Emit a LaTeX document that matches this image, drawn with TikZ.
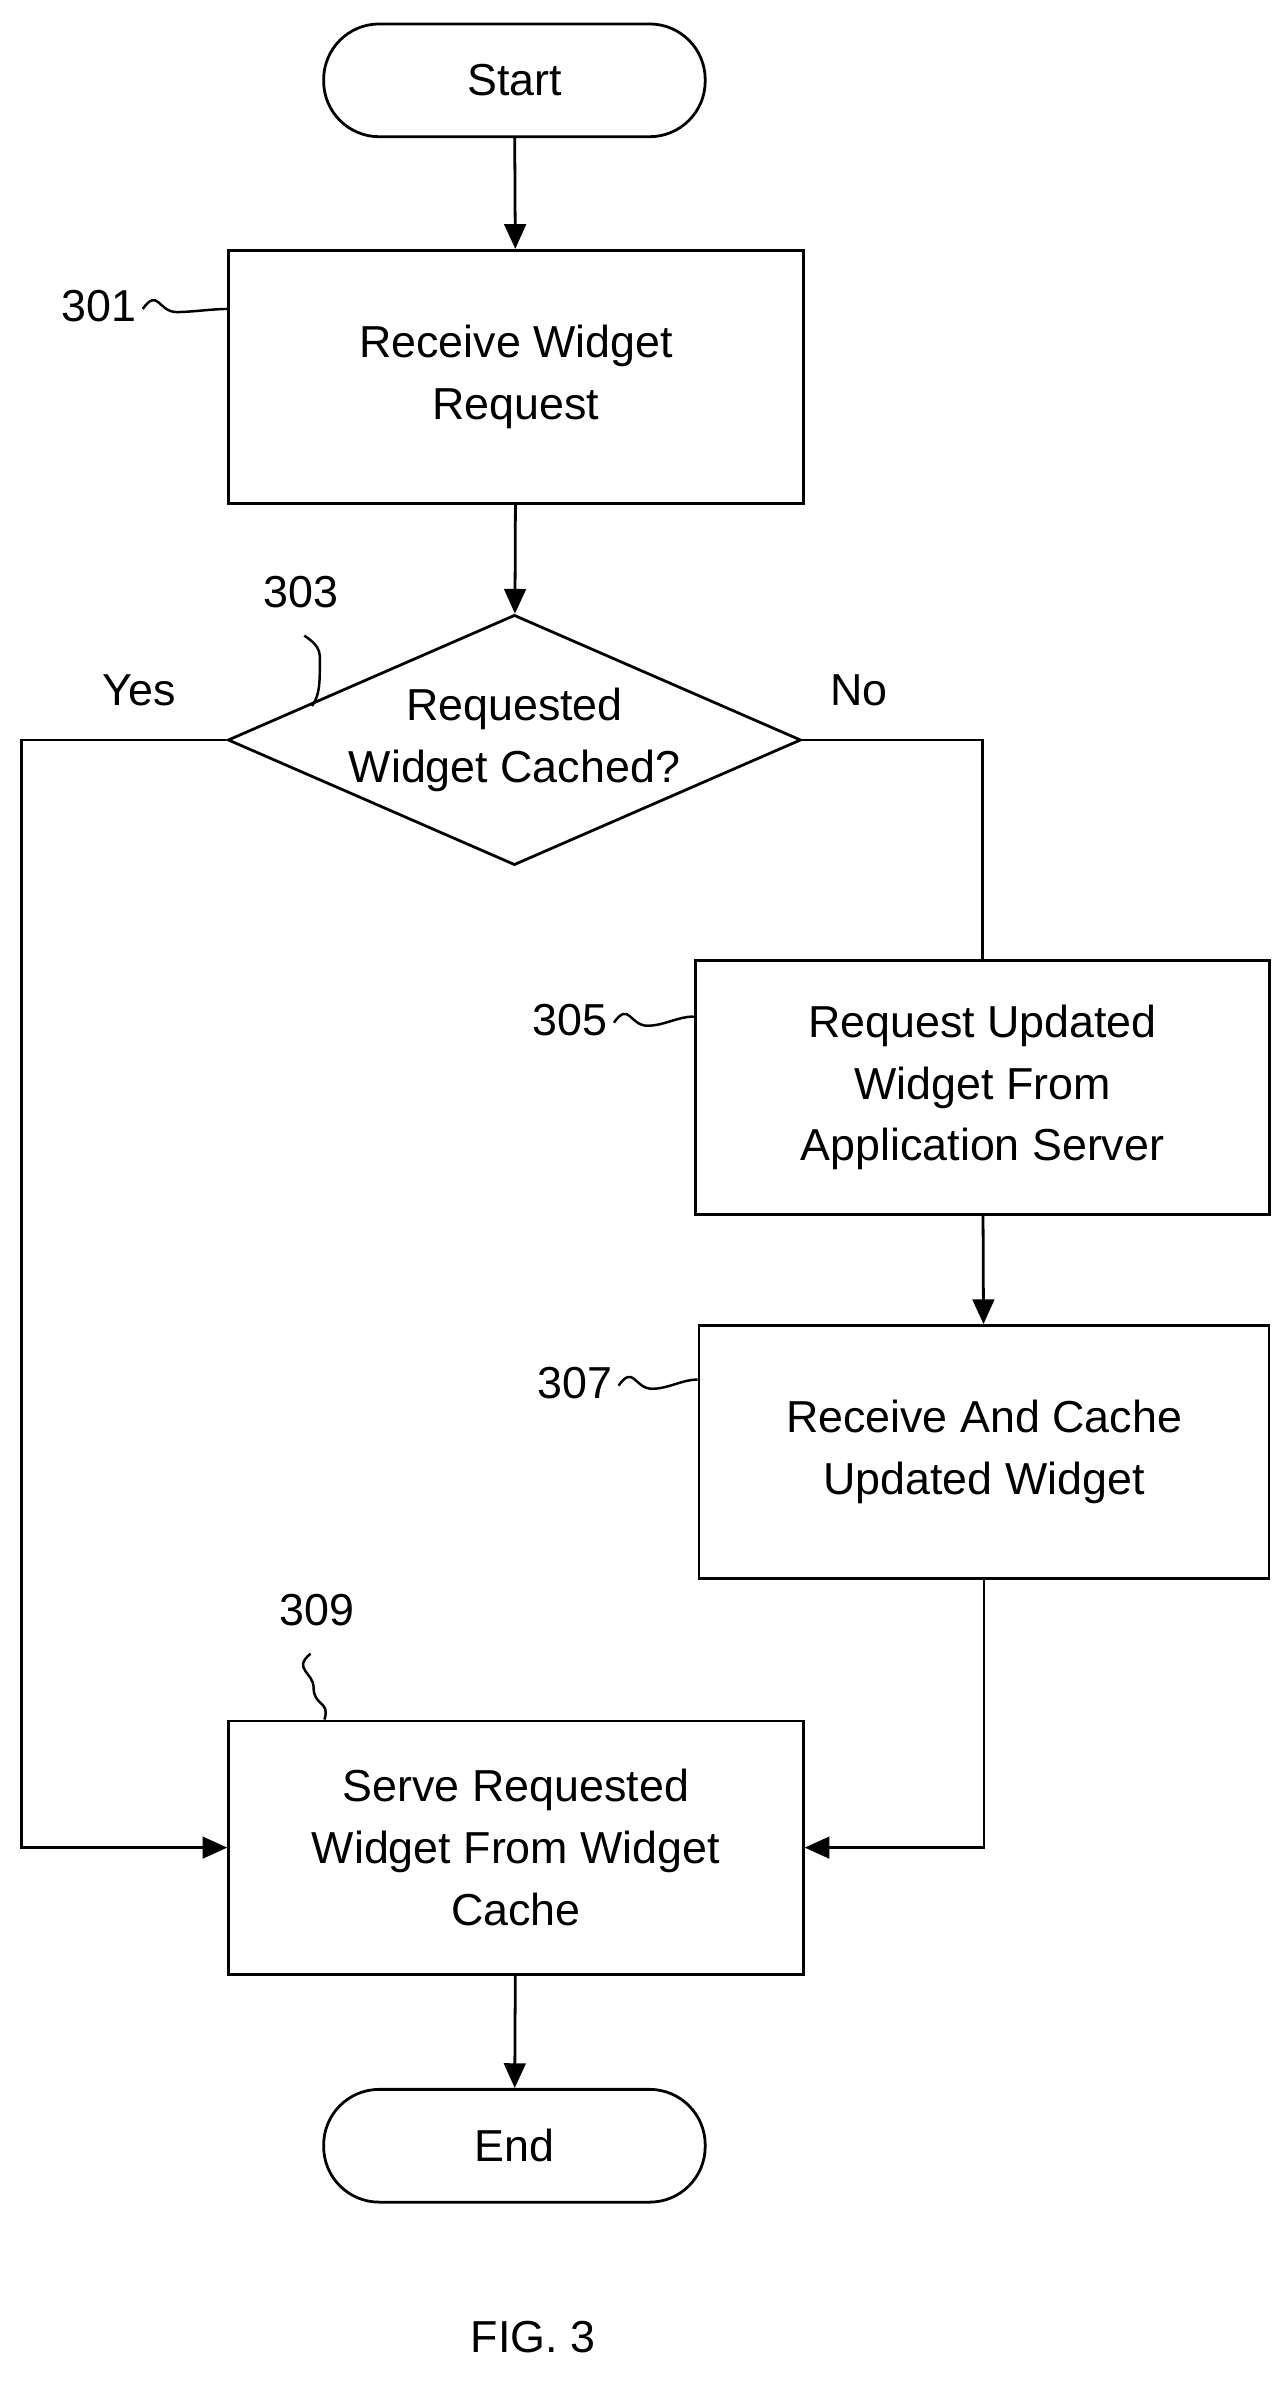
\documentclass[tikz,border=0pt]{standalone}
\usepackage{fontspec}
\setmainfont{Liberation Sans}
\usetikzlibrary{shapes.geometric,arrows.meta}
\begin{document}
\begin{tikzpicture}[x=1pt,y=-1pt,
  every node/.style={font=\fontsize{29}{40}\selectfont},
  box/.style={draw,line width=1.8pt,minimum width=372pt,minimum height=164pt,align=center,inner sep=0pt},
  term/.style={draw,line width=1.8pt,rounded corners=36pt,minimum width=247pt,minimum height=73pt},
  line/.style={line width=1.8pt},
  arr/.style={line,-{Triangle[length=16pt,width=14pt]}},
  lbl/.style={inner sep=0pt},
  sq/.style={line width=1.6pt}]
\useasboundingbox (0,0) rectangle (830,1551);
\node[term] (start) at (333,52) {Start};
\node[box] (b301) at (334,244) {Receive Widget\\Request};
\node[draw,line width=1.8pt,diamond,aspect=2.29,minimum width=371pt,minimum height=162pt,inner sep=0pt,align=center] (d303) at (333,479) {Requested\\Widget Cached?};
\node[box] (b305) at (636,704) {Request Updated\\Widget From\\Application Server};
\node[box,minimum width=369pt] (b307) at (637,940) {Receive And Cache\\Updated Widget};
\node[box] (b309) at (334,1196) {Serve Requested\\Widget From Widget\\Cache};
\node[term] (end) at (333,1389) {End};
\node (fig) at (345,1513) {FIG. 3};
\node (yes) at (90,447) {Yes};
\node (no) at (556,447) {No};
\node[lbl] (l301) at (64,198) {301};
\node[lbl] (l303) at (195,383) {303};
\node[lbl] (l305) at (369,660) {305};
\node[lbl] (l307) at (372,895) {307};
\node[lbl] (l309) at (205,1042) {309};
\draw[arr] (start) -- (b301);
\draw[arr] (b301) -- (d303);
\coordinate (yl) at (14,479);
\coordinate (nr) at (636,479);
\draw[arr] (d303.west) -- (yl) |- (b309.west);
\draw[line] (d303.east) -- (nr) -- (b305.north);
\draw[arr] (b305) -- (b307);
\draw[arr] (b307.south) |- (b309.east);
\draw[arr] (b309) -- (end);
% squiggles
\draw[sq] (l301.east)++(4,2) .. controls +(10,-14) and +(-12,0) .. ++(22,2) .. controls +(10,0) and +(-10,0) .. (b301.west|-0,200);
\draw[sq] (l305.east)++(4,2) .. controls +(10,-14) and +(-12,0) .. ++(22,2) .. controls +(10,0) and +(-10,0) .. (b305.west|-0,658);
\draw[sq] (l307.east)++(4,2) .. controls +(10,-14) and +(-12,0) .. ++(22,2) .. controls +(10,0) and +(-10,0) .. (b307.west|-0,893);
\draw[sq] (l303.south)++(2,18) .. controls +(12,8) and +(0,-10) .. ++(10,22) .. controls +(0,12) and +(4,-6) .. (202,457);
\draw[sq] (l309.south)++(-4,18) .. controls +(-12,10) and +(0,-10) .. ++(2,22) .. controls +(0,12) and +(4,-12) .. (b309.north-|210,0);
\end{tikzpicture}
\end{document}
